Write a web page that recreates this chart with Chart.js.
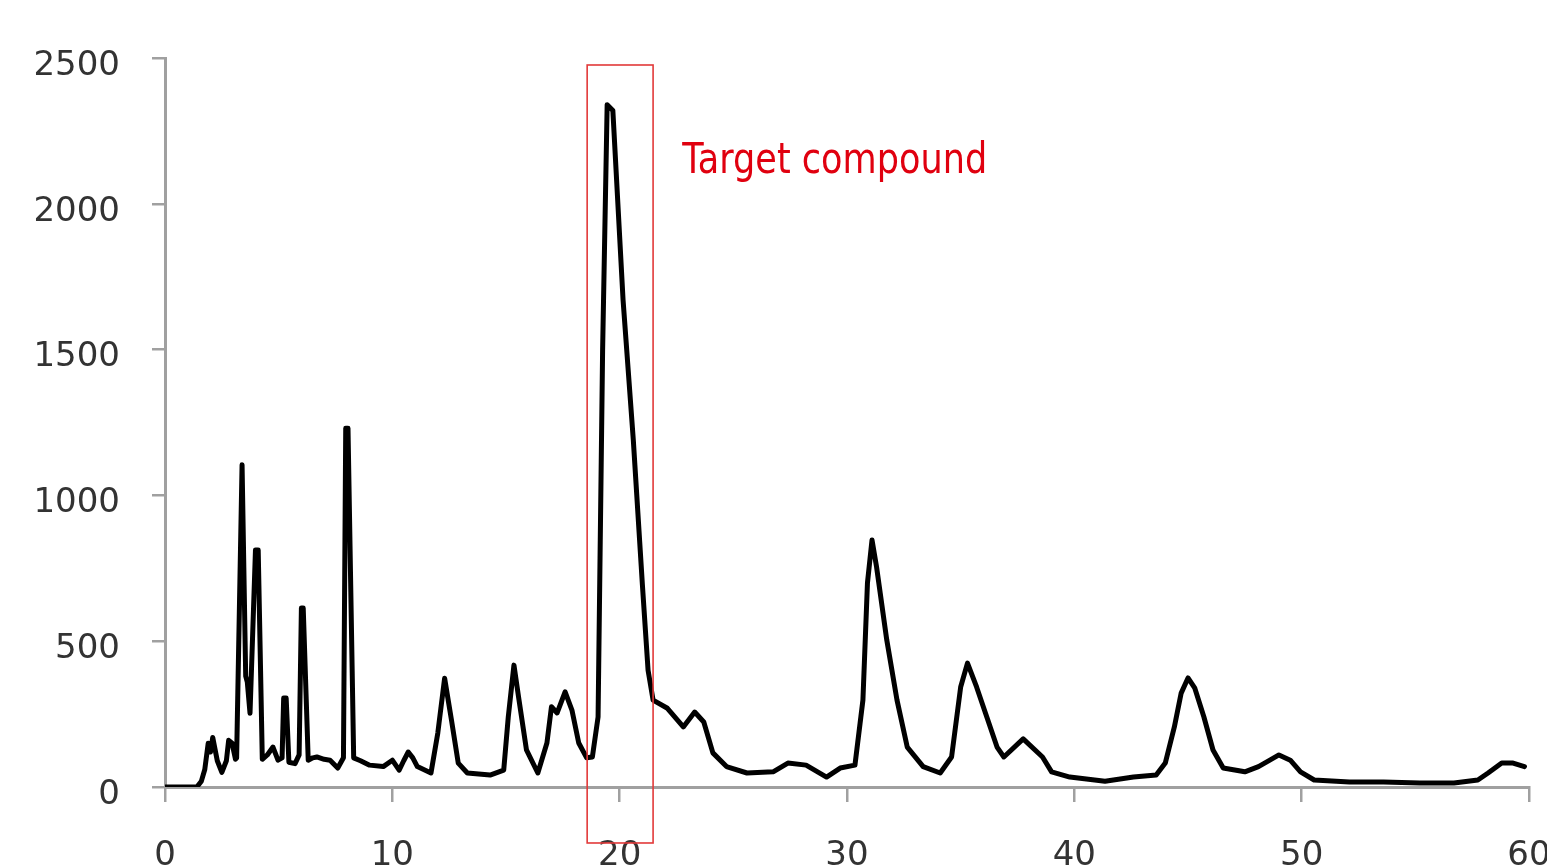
<!DOCTYPE html>
<html>
<head>
<meta charset="utf-8">
<script src="https://cdn.jsdelivr.net/npm/chart.js@4"></script>
<style>
  html, body { margin: 0; padding: 0; background: #ffffff; overflow: hidden; }
  #wrap { width: 1547px; height: 867px; }
</style>
</head>
<body>
<div id="wrap"><canvas id="c" width="1547" height="867"></canvas></div>
<script>
// Retention time (min)
const times = [
  0, 1.0, 1.4, 1.6, 1.75, 1.9, 2.0, 2.1, 2.3, 2.5, 2.7, 2.8, 2.95, 3.1,
  3.15, 3.39, 3.55, 3.62, 3.74, 3.98, 4.1, 4.28, 4.5, 4.75, 4.97, 5.15, 5.22, 5.33, 5.45,
  5.72, 5.9, 6.0, 6.08, 6.3, 6.5, 6.68, 7.0, 7.26, 7.6, 7.85, 7.95, 8.05, 8.3, 8.6,
  9.0, 9.6, 10.0, 10.3, 10.5, 10.7, 10.9, 11.1, 11.7, 12.0, 12.3, 12.6, 12.9, 13.3,
  14.3, 14.9, 15.1, 15.35, 15.55, 15.9, 16.4, 16.8, 17.0, 17.25, 17.6, 17.9, 18.2,
  18.55, 18.8, 19.05, 19.25, 19.45, 19.7, 20.15, 20.6, 21.0, 21.25, 21.47,
  22.1, 22.8, 23.3, 23.7, 24.1, 24.7, 25.6, 26.75, 27.4, 28.2, 29.1, 29.7, 30.35,
  30.7, 30.9, 31.1, 31.3, 31.75, 32.2, 32.65, 33.35, 34.1, 34.6, 35.0, 35.3, 35.7,
  36.15, 36.6, 36.9, 37.75, 38.6, 39.0, 39.8, 41.35, 42.6, 43.6, 44.0, 44.4, 44.7,
  45.0, 45.3, 45.7, 46.1, 46.55, 47.5, 48.1, 48.6, 49.0, 49.5, 49.95, 50.55, 52.1,
  53.6, 55.2, 56.7, 57.75, 58.2, 58.8, 59.3, 59.8
];
// Detector signal
const signal = [
  0, 0, 0, 20, 60, 150, 120, 170, 90, 50, 90, 160, 150, 95,
  100, 1105, 380, 360, 253, 813, 813, 95, 110, 137, 92, 100, 305, 305, 85,
  80, 110, 614, 614, 92, 100, 103, 95, 92, 65, 100, 1230, 1230, 100, 90,
  75, 70, 92, 58, 90, 120, 100, 70, 48, 185, 373, 230, 82, 48,
  41, 58, 240, 418, 310, 127, 48, 151, 275, 254, 326, 264, 151,
  100, 103, 240, 1500, 2340, 2320, 1670, 1190, 693, 400, 298,
  270, 206, 257, 223, 117, 70, 48, 52, 82, 75, 34, 65, 75,
  298, 700, 847, 755, 504, 298, 137, 70, 48, 103, 343, 425, 343,
  240, 137, 103, 165, 103, 52, 34, 20, 34, 41, 82, 206, 322,
  374, 339, 240, 127, 65, 52, 70, 92, 110, 92, 52, 24, 17,
  17, 14, 14, 24, 48, 82, 82, 70
];
const xTicks = [0, 10, 20, 30, 40, 50, 60];
const yTicks = [0, 500, 1000, 1500, 2000, 2500];
const annotationLabel = "Target compound";
const boxRange = [18.57, 21.47];   // retention-time window of target compound
const boxValues = [-192, 2476];

const points = times.map((t, i) => ({ x: t, y: signal[i] }));

const annotate = {
  id: 'annotate',
  afterDatasetsDraw(chart) {
    const { ctx, scales: { x, y } } = chart;
    const x0 = x.getPixelForValue(boxRange[0]);
    const x1 = x.getPixelForValue(boxRange[1]);
    const y0 = y.getPixelForValue(boxValues[1]);
    const y1 = y.getPixelForValue(boxValues[0]);
    ctx.save();
    ctx.strokeStyle = '#e23a3a';
    ctx.lineWidth = 1.6;
    ctx.strokeRect(x0, y0, x1 - x0, y1 - y0);
    ctx.fillStyle = '#e0000f';
    ctx.font = '42px "DejaVu Sans"';
    ctx.textBaseline = 'alphabetic';
    ctx.textAlign = 'left';
    ctx.fillText(annotationLabel, x.getPixelForValue(22.75), y.getPixelForValue(2105), 305);
    ctx.restore();
  }
};

new Chart(document.getElementById('c'), {
  type: 'line',
  data: {
    datasets: [{
      data: points,
      borderColor: '#000000',
      borderWidth: 5,
      pointRadius: 0,
      tension: 0,
      fill: false,
      borderJoinStyle: 'round',
      borderCapStyle: 'round'
    }]
  },
  options: {
    responsive: false,
    animation: false,
    devicePixelRatio: 1,
    layout: { padding: { left: 0, right: 18, top: 58, bottom: 0 } },
    plugins: { legend: { display: false }, tooltip: { enabled: false } },
    scales: {
      x: {
        type: 'linear',
        min: 0, max: 60,
        afterBuildTicks(s) { s.ticks = xTicks.map(v => ({ value: v })); },
        afterFit(s) { s.height = 80; s.paddingLeft = 0; s.paddingRight = 0; },
        grid: { drawOnChartArea: false, drawTicks: true, tickLength: 15, color: '#a0a0a0', lineWidth: 2.5 },
        border: { display: true, color: '#a0a0a0', width: 3 },
        ticks: { padding: 34, color: '#333333', font: { family: 'DejaVu Sans', size: 34 }, maxRotation: 0,
                 callback: v => String(v) }
      },
      y: {
        type: 'linear',
        min: 0, max: 2500,
        afterBuildTicks(s) { s.ticks = yTicks.map(v => ({ value: v })); },
        afterFit(s) { s.width = 165; s.paddingTop = 0; s.paddingBottom = 0; },
        grid: { drawOnChartArea: false, drawTicks: true, tickLength: 13, color: '#a0a0a0', lineWidth: 2.5 },
        border: { display: true, color: '#a0a0a0', width: 3 },
        ticks: { padding: 32, labelOffset: 8, color: '#333333', font: { family: 'DejaVu Sans', size: 34 },
                 callback: v => String(v) }
      }
    }
  },
  plugins: [annotate]
});
</script>
</body>
</html>
